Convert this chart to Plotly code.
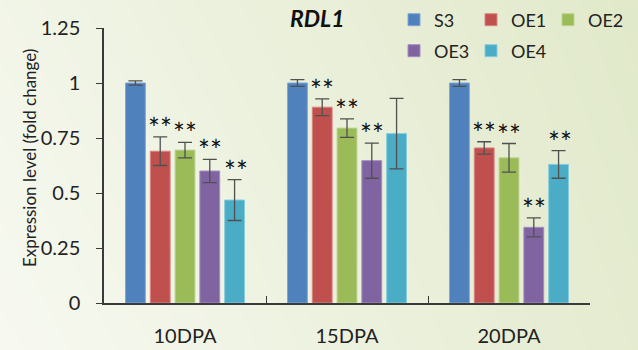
import plotly.graph_objects as go

# Expression of RDL1 at three fibre developmental stages
stages = ["10DPA", "15DPA", "20DPA"]
lines = ["S3", "OE1", "OE2", "OE3", "OE4"]
means = {
    "S3":  [1.00, 1.00, 1.00],
    "OE1": [0.69, 0.89, 0.705],
    "OE2": [0.695, 0.795, 0.66],
    "OE3": [0.60, 0.647, 0.344],
    "OE4": [0.468, 0.77, 0.63],
}
errors = {
    "S3":  [0.010, 0.015, 0.015],
    "OE1": [0.065, 0.038, 0.028],
    "OE2": [0.035, 0.042, 0.065],
    "OE3": [0.053, 0.080, 0.043],
    "OE4": [0.093, 0.160, 0.063],
}
signif = {
    "S3":  ["", "", ""],
    "OE1": ["**", "**", "**"],
    "OE2": ["**", "**", "**"],
    "OE3": ["**", "**", "**"],
    "OE4": ["**", "", "**"],
}
y_ticks = [0, 0.25, 0.5, 0.75, 1, 1.25]
y_ticktext = ["0", "0.25", "0.5", "0.75", "1", "1.25"]

colors = {
    "S3": "#4F81BD",
    "OE1": "#C0504D",
    "OE2": "#9BBB59",
    "OE3": "#8064A2",
    "OE4": "#4BACC6",
}
edge = {
    "S3": "#7FA6D8",
    "OE1": "#D98583",
    "OE2": "#BCD48E",
    "OE3": "#A48DC0",
    "OE4": "#86CCDD",
}

W, H = 638, 350
FONT = "Lato"
AXIS = "#3A3A3A"

fig = go.Figure()

# soft gradient backdrop across the whole page
fig.add_trace(go.Heatmap(
    z=[[0.0, 0.85], [0.25, 1.0]], x=[0, 1], y=[0, 1],
    colorscale=[[0, "#F7F9F1"], [1, "#E1E9CA"]],
    zsmooth="best", showscale=False, hoverinfo="skip",
    xaxis="x", yaxis="y",
))

for name in lines:
    fig.add_trace(go.Bar(
        name=name, x=stages, y=means[name],
        marker=dict(color=colors[name], line=dict(color=edge[name], width=1)),
        error_y=dict(type="data", array=errors[name], visible=True,
                     color="#505050", thickness=1.3, width=7),
        xaxis="x2", yaxis="y2",
        legend="legend" if name in ("S3", "OE1", "OE2") else "legend2",
    ))

# significance marks above the error bars
for i, name in enumerate(lines):
    for j, st in enumerate(stages):
        if signif[name][j]:
            fig.add_annotation(
                x=st, y=means[name][j] + errors[name][j],
                xref="x2", yref="y2",
                text=signif[name][j], showarrow=False,
                xshift=(i - 2) * 25.4, yshift=-10,
                yanchor="bottom",
                font=dict(family=FONT, size=28, color="#111111"),
            )

L, R, T, B = 104, 590, 28, 303
fig.update_layout(
    width=W, height=H,
    margin=dict(l=0, r=0, t=0, b=0, autoexpand=False),
    paper_bgcolor="#EEF2DF",
    plot_bgcolor="rgba(0,0,0,0)",
    barmode="group", bargap=0.235, bargroupgap=0.2,
    xaxis=dict(domain=[0, 1], range=[0, 1], visible=False, fixedrange=True, automargin=False),
    yaxis=dict(domain=[0, 1], range=[0, 1], visible=False, fixedrange=True, automargin=False),
    xaxis2=dict(
        domain=[L / W, R / W], anchor="y2", automargin=False,
        showline=True, linecolor=AXIS, linewidth=1.5,
        ticks="inside", tickson="boundaries", ticklen=7, tickcolor=AXIS, tickwidth=1.3,
        showgrid=False, zeroline=False,
        tickfont=dict(family=FONT, size=20, color="#222222"),
        ticklabelstandoff=14,
    ),
    yaxis2=dict(
        domain=[1 - B / H, 1 - T / H], anchor="x2", automargin=False,
        range=[0, 1.25], tickvals=y_ticks, ticktext=y_ticktext,
        showline=True, linecolor=AXIS, linewidth=1.5,
        ticks="outside", ticklen=6, tickcolor=AXIS, tickwidth=1.3,
        showgrid=False, zeroline=False,
        tickfont=dict(family=FONT, size=20, color="#222222"),
        ticklabelstandoff=12,
    ),
    legend=dict(
        orientation="h", x=394 / W, y=1 - 20 / H, xanchor="left", yanchor="middle",
        entrywidth=32, entrywidthmode="pixels", bgcolor="rgba(0,0,0,0)",
        font=dict(family=FONT, size=18, color="#222222"),
        itemclick=False, itemdoubleclick=False,
    ),
    legend2=dict(
        orientation="h", x=394 / W, y=1 - 51 / H, xanchor="left", yanchor="middle",
        entrywidth=32, entrywidthmode="pixels", bgcolor="rgba(0,0,0,0)",
        font=dict(family=FONT, size=18, color="#222222"),
        itemclick=False, itemdoubleclick=False,
    ),
    showlegend=True,
)

fig.add_annotation(
    text="<b><i>RDL1</i></b>", x=317 / W, y=1 - 18 / H, xref="paper", yref="paper",
    showarrow=False, xanchor="center", yanchor="middle",
    font=dict(family=FONT, size=23, color="#111111"),
)
fig.add_annotation(
    text="Expression level (fold change)", textangle=-90,
    x=29 / W, y=1 - 158 / H, xref="paper", yref="paper",
    showarrow=False, xanchor="center", yanchor="middle",
    font=dict(family=FONT, size=17, color="#222222"),
)

fig.write_html("out.html")
